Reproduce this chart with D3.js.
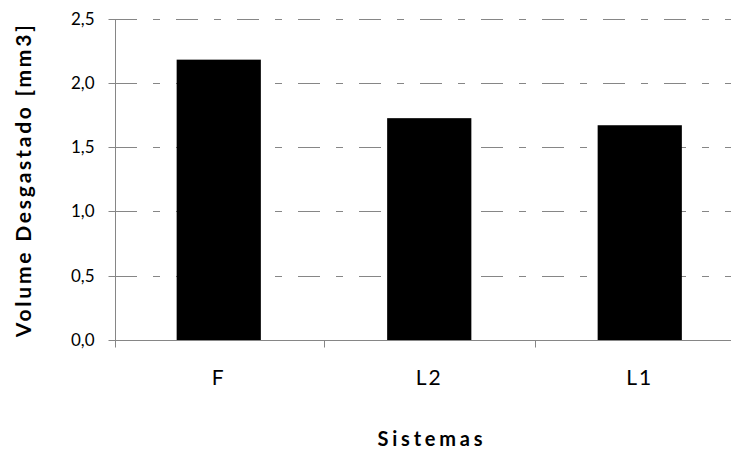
<!DOCTYPE html>
<html>
<head>
<meta charset="utf-8">
<script src="https://cdn.jsdelivr.net/npm/d3@7"></script>
<style>
  html, body { margin: 0; padding: 0; background: #fff; }
  svg { display: block; overflow: hidden; }
  text { font-family: Lato, "Open Sans", "Liberation Sans", sans-serif; fill: #000; }
</style>
</head>
<body>
<div id="chart"></div>
<script>
// Worn volume per system
const categories = ["F", "L2", "L1"];
const values = [2.18, 1.725, 1.67];
const yTicks = [0, 0.5, 1.0, 1.5, 2.0, 2.5];
const yTitle = "Volume Desgastado [mm3]";
const xTitle = "Sistemas";

const W = 731, H = 451;
const plotLeft = 115, plotTop = 18.5, plotBottom = 340;
const bandStart = 113.5, bandEnd = 745;
const axisColor = "#868686";

const svg = d3.select("#chart").append("svg")
  .attr("width", W).attr("height", H);

const x = d3.scaleBand().domain(categories).range([bandStart, bandEnd])
  .paddingInner(0.6).paddingOuter(0.3);
const y = d3.scaleLinear().domain([0, 2.5]).range([plotBottom, plotTop]);

// Dash-dot gridlines
svg.append("g").selectAll("line")
  .data(yTicks.filter(d => d > 0))
  .join("line")
  .attr("x1", plotLeft).attr("x2", W)
  .attr("y1", d => Math.round(y(d)) + 0.5)
  .attr("y2", d => Math.round(y(d)) + 0.5)
  .attr("stroke", axisColor)
  .attr("stroke-width", 1)
  .attr("stroke-dasharray", "22,16,7,16");

// Bars
svg.append("g").selectAll("rect")
  .data(categories.map((c, i) => ({ c, v: values[i] })))
  .join("rect")
  .attr("x", d => x(d.c))
  .attr("width", x.bandwidth())
  .attr("y", d => y(d.v))
  .attr("height", d => y(0) - y(d.v))
  .attr("fill", "#000");

// Y axis
const yAxis = svg.append("g")
  .attr("transform", `translate(${plotLeft + 0.5},0)`)
  .call(d3.axisLeft(y).tickValues(yTicks).tickSize(7).tickPadding(14)
    .tickFormat(d => d3.format(".1f")(d).replace(".", ",")));
yAxis.selectAll("line, path").attr("stroke", axisColor);
yAxis.select(".domain").attr("d", `M0,${Math.round(y(2.5)) + 0.5}V${Math.round(y(0)) + 0.5}`);
yAxis.selectAll(".tick").attr("transform", d => `translate(0,${Math.round(y(d)) + 0.5})`);
yAxis.selectAll("text").style("font-size", "17px").attr("fill", "#000");

// X axis with ticks at band boundaries
const xg = svg.append("g").attr("transform", `translate(0,${Math.round(y(0)) + 0.5})`);
xg.append("line").attr("x1", plotLeft).attr("x2", W).attr("stroke", axisColor);
const step = x.step();
const bounds = d3.range(categories.length + 1).map(i => bandStart + i * step);
xg.selectAll(".xt").data(bounds.filter(d => d > plotLeft)).join("line")
  .attr("class", "xt")
  .attr("x1", d => Math.round(d) + 0.5).attr("x2", d => Math.round(d) + 0.5)
  .attr("y1", 0).attr("y2", 7)
  .attr("stroke", axisColor);
xg.append("line").attr("x1", plotLeft + 0.5).attr("x2", plotLeft + 0.5)
  .attr("y1", 0).attr("y2", 7).attr("stroke", axisColor);
xg.selectAll(".xl").data(categories).join("text")
  .attr("class", "xl")
  .attr("x", d => x(d) + x.bandwidth() / 2)
  .attr("y", 44.5)
  .attr("text-anchor", "middle")
  .style("font-size", "21px")
  .style("letter-spacing", "2px")
  .text(d => d);

// Axis titles
svg.append("text")
  .attr("transform", `translate(31,${(plotTop + plotBottom) / 2 + 2}) rotate(-90)`)
  .attr("text-anchor", "middle")
  .style("font-size", "21px").style("font-weight", "bold")
  .attr("textLength", 312).attr("lengthAdjust", "spacing")
  .text(yTitle);

svg.append("text")
  .attr("x", 430).attr("y", 446)
  .attr("text-anchor", "middle")
  .style("font-size", "20px").style("font-weight", "bold")
  .attr("textLength", 105).attr("lengthAdjust", "spacing")
  .text(xTitle);
</script>
</body>
</html>
